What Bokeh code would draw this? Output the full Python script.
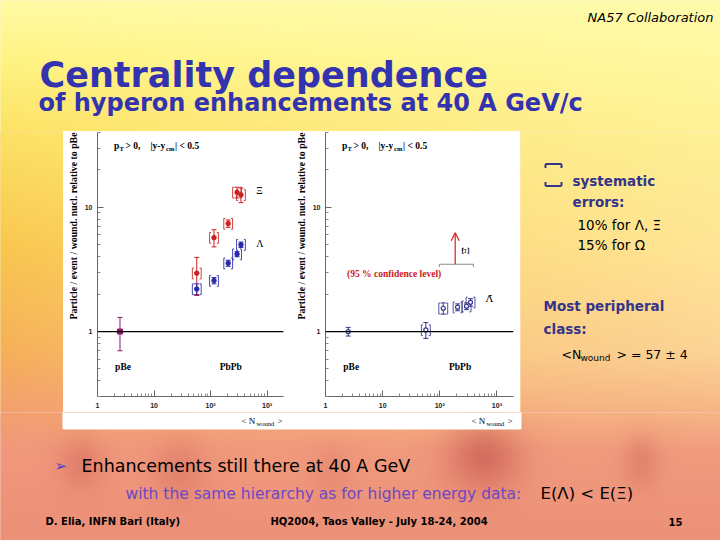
import numpy as np
from bokeh.plotting import figure
from bokeh.layouts import row, column
from bokeh.models import (Range1d, Label, Span, Whisker, ColumnDataSource, FixedTicker,
                          Arrow, OpenHead, TeeHead, Title)
from bokeh.embed import file_html
from bokeh.resources import INLINE

# ---------------- data ----------------
nwound_pbe = [2.5]
nwound_pbpb = [57, 115, 205, 294, 345]

xi_pbe = [1.0]
xi_pbe_err = [0.3]
xi_pbpb = [2.95, 5.7, 7.4, 13.2, 12.6]
xi_pbpb_err = [1.0, 0.9, 0.5, 1.3, 1.7]
lam_pbpb = [2.2, 2.57, 3.55, 4.2, 5.0]
lam_pbpb_err = [0.22, 0.15, 0.2, 0.2, 0.25]

alam_pbe = [1.0]
alam_pbe_err = [0.08]
alam_pbpb = [1.03, 1.54, 1.57, 1.6, 1.72]
alam_pbpb_err = [0.15, 0.16, 0.1, 0.1, 0.12]

axi_limit_x = [186]
axi_limit_y = [3.48]
axi_arrow_top = [6.25]
axi_bin = [98, 388]

syst_frac = 0.10

x_ticks = [1, 10, 100, 1000]
x_tick_labels = ["1", "10", "10²", "10³"]
x_minor = [2, 3, 4, 5, 6, 7, 8, 9, 20, 30, 40, 50, 60, 70, 80, 90,
           200, 300, 400, 500, 600, 700, 800, 900]
y_ticks = [1, 10]
y_tick_labels = ["1", "10"]
y_minor = [0.3, 0.4, 0.5, 0.6, 0.7, 0.8, 0.9, 2, 3, 4, 5, 6, 7, 8, 9, 20, 30, 40]

XR = (1, 1950)
YR = (0.3, 40)

RED = "#cc2020"
BLUE = "#2828a8"
PURPLE = "#8a1a66"
NAVY = "#34348a"
TITLE_BLUE = "#3333b0"

# ---------------- background ----------------
KEY_Y = [0, 60, 130, 250, 350, 410, 450, 540]
LEFT_C = [(255, 250, 165), (255, 243, 130), (253, 226, 100), (249, 198, 78),
          (246, 176, 88), (243, 160, 110), (241, 152, 124), (236, 144, 120)]
RIGHT_C = [(255, 251, 172), (255, 248, 160), (255, 241, 150), (255, 229, 150),
           (252, 212, 150), (247, 182, 134), (241, 155, 126), (236, 145, 121)]
# soft darker "flame" shapes of the slide background: (cx, cy, rx, ry, strength)
FLAMES = [(483, 455, 36, 34, 1.0), (80, 462, 22, 26, 0.55), (178, 468, 26, 32, 0.45),
          (640, 460, 18, 26, 0.5), (330, 470, 20, 30, 0.25)]
FLAME_K = (0.11, 0.28, 0.23)


def bg_rgba(X0, Y0, w, h):
    Ys = Y0 + h - 1 - np.arange(h)
    Xs = X0 + np.arange(w)
    XX, YY = np.meshgrid(Xs, Ys)
    t = np.clip(Xs / 720.0, 0, 1) ** 0.8
    dark = np.zeros((h, w))
    for cx, cy, rx, ry, a in FLAMES:
        dark += a * np.exp(-((XX - cx) / rx) ** 2 - ((YY - cy) / ry) ** 2)
    dark = np.clip(dark, 0, 1)
    img = np.empty((h, w), dtype=np.uint32)
    v = img.view(dtype=np.uint8).reshape((h, w, 4))
    for c in range(3):
        L = np.interp(Ys, KEY_Y, [k[c] for k in LEFT_C])
        R = np.interp(Ys, KEY_Y, [k[c] for k in RIGHT_C])
        base = L[:, None] * (1 - t[None, :]) + R[:, None] * t[None, :]
        v[:, :, c] = np.clip(base * (1 - FLAME_K[c] * dark), 0, 255).astype(np.uint8)
    v[:, :, 3] = 255
    return img


def no_align(f):
    if "frame_align" in f.properties():
        f.frame_align = False


def bg_fig(X0, Y0, w, h):
    f = figure(width=w, height=h, x_range=Range1d(0, w), y_range=Range1d(0, h),
               output_backend="svg", toolbar_location=None,
               x_axis_type=None, y_axis_type=None, min_border=0)
    no_align(f)
    f.grid.visible = False
    f.outline_line_color = None
    img = bg_rgba(X0 - 2, Y0 - 2, w + 4, h + 4)
    mean = img.view(dtype=np.uint8).reshape((h + 4, w + 4, 4))[:, :, :3].reshape(-1, 3).mean(0)
    col = "#%02x%02x%02x" % tuple(int(c) for c in mean)
    f.background_fill_color = col
    f.border_fill_color = col
    f.image_rgba(image=[img], x=-2, y=-2, dw=w + 4, dh=h + 4)
    f._X0, f._Y0, f._h = X0, Y0, h
    return f


def txt(f, X, Y, text, size, color="black", font="DejaVu Sans", style="normal",
        align="left", baseline="alphabetic"):
    f.add_layout(Label(x=X - f._X0, y=f._h - (Y - f._Y0), text=text, text_font=font,
                       text_font_size=f"{size}px", text_color=color, text_font_style=style,
                       text_align=align, text_baseline=baseline))


# ---------------- panels ----------------
def brackets(p, xs, ys, s, color):
    f = 10 ** (4.5 / 57.7)
    g = 10 ** (1.6 / 57.7)
    x0, y0, x1, y1 = [], [], [], []
    for x, y in zip(xs, ys):
        lo, hi = y * (1 - s), y * (1 + s)
        for xb, d in ((x / f, g), (x * f, 1 / g)):
            x0 += [xb, xb, xb]
            y0 += [lo, lo, hi]
            x1 += [xb, xb * d, xb * d]
            y1 += [hi, lo, hi]
    p.segment(x0, y0, x1, y1, line_color=color, line_width=1, line_alpha=0.85)


def errbars(p, xs, ys, es, color):
    src = ColumnDataSource(dict(x=xs, lo=[y - e for y, e in zip(ys, es)],
                                hi=[y + e for y, e in zip(ys, es)]))
    p.add_layout(Whisker(source=src, base="x", lower="lo", upper="hi", dimension="height",
                         line_color=color, line_width=1,
                         upper_head=TeeHead(size=5, line_color=color, line_width=1),
                         lower_head=TeeHead(size=5, line_color=color, line_width=1)))


def slabel(p, sx, sy, text, size, style="bold", align="left", angle=0, color="black"):
    p.add_layout(Label(x=sx, y=sy, x_units="screen", y_units="screen", text=text,
                       text_font="Liberation Serif", text_font_size=f"{size}px",
                       text_font_style=style, text_align=align, text_baseline="middle",
                       angle=angle, text_color=color))


def dlabel(p, x, y, text, size, style="bold", align="left", color="black", angle=0,
           font="Liberation Serif"):
    p.add_layout(Label(x=x, y=y, text=text, text_font=font,
                       text_font_size=f"{size}px", text_font_style=style,
                       text_align=align, text_baseline="middle", text_color=color,
                       angle=angle))


PANEL_H = 281


def make_panel(w, bl, br):
    p = figure(width=w, height=PANEL_H, x_axis_type="log", y_axis_type="log",
               x_range=Range1d(*XR), y_range=Range1d(*YR),
               output_backend="svg", toolbar_location=None,
               min_border_left=bl, min_border_right=br, min_border_top=1, min_border_bottom=16)
    no_align(p)
    p.background_fill_color = "white"
    p.border_fill_color = "white"
    p.outline_line_color = None
    p.grid.visible = False
    p.xaxis.ticker = FixedTicker(ticks=x_ticks, minor_ticks=x_minor)
    p.yaxis.ticker = FixedTicker(ticks=y_ticks, minor_ticks=y_minor)
    p.xaxis.major_label_overrides = {t: l for t, l in zip(x_ticks, x_tick_labels)}
    p.yaxis.major_label_overrides = {t: l for t, l in zip(y_ticks, y_tick_labels)}
    for ax in (p.xaxis[0], p.yaxis[0]):
        ax.axis_line_color = "#666666"
        ax.major_tick_line_color = "#666666"
        ax.minor_tick_line_color = "#888888"
        ax.major_tick_in = 6
        ax.major_tick_out = 0
        ax.minor_tick_in = 3
        ax.minor_tick_out = 0
        ax.major_label_text_font = "Liberation Sans"
        ax.major_label_text_font_style = "bold"
        ax.major_label_text_font_size = "7px"
        ax.major_label_text_color = "#222222"
        ax.major_label_standoff = 5
    p.add_layout(Title(text="Particle / event / wound. nucl. relative to pBe", align="right",
                       text_font="Liberation Serif", text_font_size="9.8px",
                       text_font_style="bold", text_color="black", standoff=5), "left")
    p.add_layout(Span(location=1, dimension="width", line_color="black", line_width=1.2))
    slabel(p, 16.5, 251, "p", 9.5)
    slabel(p, 22, 248, "T", 6.5)
    slabel(p, 28, 251, "> 0,", 9.5)
    slabel(p, 53, 251, "|y-y", 9.5)
    slabel(p, 68.5, 248, "cm", 6.5)
    slabel(p, 77.5, 251, "| < 0.5", 9.5)
    dlabel(p, 2.05, 0.52, "pBe", 9.5)
    dlabel(p, 145, 0.52, "PbPb", 9.5)
    return p


pL = make_panel(228, 31, 8)
# Xi
brackets(pL, nwound_pbpb, xi_pbpb, syst_frac, RED)
errbars(pL, nwound_pbpb, xi_pbpb, xi_pbpb_err, RED)
pL.scatter(nwound_pbpb, xi_pbpb, marker="circle", size=4.5, color=RED)
# Lambda
brackets(pL, nwound_pbpb, lam_pbpb, syst_frac, BLUE)
errbars(pL, nwound_pbpb, lam_pbpb, lam_pbpb_err, BLUE)
pL.scatter(nwound_pbpb, lam_pbpb, marker="circle", size=4.5, color=BLUE)
# pBe
errbars(pL, nwound_pbe, xi_pbe, xi_pbe_err, PURPLE)
pL.scatter(nwound_pbe, xi_pbe, marker="square", size=5, color=PURPLE)
dlabel(pL, 640, 13.7, "Ξ", 10, style="normal")
dlabel(pL, 640, 5.1, "Λ", 10, style="normal")

pR = make_panel(229, 32, 7)
brackets(pR, nwound_pbpb, alam_pbpb, syst_frac, NAVY)
errbars(pR, nwound_pbpb, alam_pbpb, alam_pbpb_err, NAVY)
pR.scatter(nwound_pbpb, alam_pbpb, marker="circle", size=4, fill_color="white",
           line_color=NAVY, line_width=1.2)
errbars(pR, nwound_pbe, alam_pbe, alam_pbe_err, NAVY)
pR.scatter(nwound_pbe, alam_pbe, marker="circle", size=4, fill_color="white",
           line_color=NAVY, line_width=1.2)
# anti-Xi upper limit
pR.segment([axi_bin[0], axi_bin[0], axi_bin[1]], [axi_limit_y[0]] * 3,
           [axi_bin[1], axi_bin[0], axi_bin[1]],
           [axi_limit_y[0], axi_limit_y[0] * 0.95, axi_limit_y[0] * 0.95],
           line_color="#8a8a8a", line_width=1)
pR.add_layout(Arrow(end=OpenHead(size=8, line_color=RED, line_width=1.2),
                    x_start=axi_limit_x[0], y_start=axi_limit_y[0],
                    x_end=axi_limit_x[0], y_end=axi_arrow_top[0],
                    line_color=RED, line_width=1.2))
dlabel(pR, 277, 4.48, "Ξ̄", 10, style="normal", align="center", angle=np.pi / 2,
       font="DejaVu Serif")
dlabel(pR, 2.38, 2.91, "(95 % confidence level)", 9.5, color=RED)
dlabel(pR, 640, 1.85, "Λ̄", 10, style="normal", font="DejaVu Serif")

# ---------------- slide parts ----------------
top = bg_fig(0, 0, 720, 131)
txt(top, 713, 17, "NA57 Collaboration", 13, style="italic", align="right")
txt(top, 39, 74, "Centrality dependence", 35, color=TITLE_BLUE, style="bold")
txt(top, 38, 102, "of hyperon enhancements at 40 A GeV/c", 24, color=TITLE_BLUE, style="bold")

strip = bg_fig(0, 131, 63, PANEL_H)

rfig = bg_fig(520, 131, 200, PANEL_H)
bx0, bx1 = 545 - 520, 561 - 520
yt, yb = PANEL_H - (163.5 - 131), PANEL_H - (185.5 - 131)
rfig.segment([bx0, bx0, bx1, bx0, bx0, bx1], [yt, yt, yt, yb, yb, yb],
             [bx1, bx0, bx1, bx1, bx0, bx1], [yt, yt - 4, yt - 4, yb, yb + 4, yb + 4],
             line_color=NAVY, line_width=2)
txt(rfig, 572, 180, "systematic", 13.5, color=NAVY, style="bold")
txt(rfig, 572, 201, "errors:", 13.5, color=NAVY, style="bold")
txt(rfig, 577, 224, "10%  for Λ, Ξ", 13.5)
txt(rfig, 577, 244, "15%  for Ω", 13.5)
txt(rfig, 543, 305, "Most peripheral", 13.5, color=NAVY, style="bold")
txt(rfig, 543, 328, "class:", 13.5, color=NAVY, style="bold")
txt(rfig, 561, 354, "<N", 12.5)
txt(rfig, 580, 357, "wound", 9)
txt(rfig, 616, 354, "> = 57 ± 4", 12.5)

BOT_Y0 = 131 + PANEL_H
bottom = bg_fig(0, BOT_Y0, 720, 540 - BOT_Y0)
bh = 540 - BOT_Y0
bottom.quad(left=[63], right=[520], top=[bh + 3], bottom=[bh - (428 - BOT_Y0)],
            fill_color="white", line_color="white", line_width=2)
for dx in (0, 230):
    txt(bottom, 241 + dx, 420, "< N", 9, font="Liberation Serif", baseline="middle")
    txt(bottom, 256 + dx, 423, "wound", 6.5, font="Liberation Serif", baseline="middle")
    txt(bottom, 277 + dx, 420, ">", 9, font="Liberation Serif", baseline="middle")
txt(bottom, 54, 465, "➢", 15, color="#4a3cd0")
txt(bottom, 81, 465, "Enhancements still there at 40 A GeV", 17.5)
txt(bottom, 125, 493, "with the same hierarchy as for higher energy data:", 15.5, color="#6c48c4")
txt(bottom, 540, 493, "E(Λ) < E(Ξ)", 16.5)
txt(bottom, 45, 521, "D. Elia, INFN Bari (Italy)", 10, style="bold")
txt(bottom, 270, 521, "HQ2004, Taos Valley - July 18-24, 2004", 10, style="bold")
txt(bottom, 668, 521, "15", 10, style="bold")

layout = column(top, row(strip, pL, pR, rfig), bottom)
open("out.html", "w").write(file_html(layout, INLINE))
